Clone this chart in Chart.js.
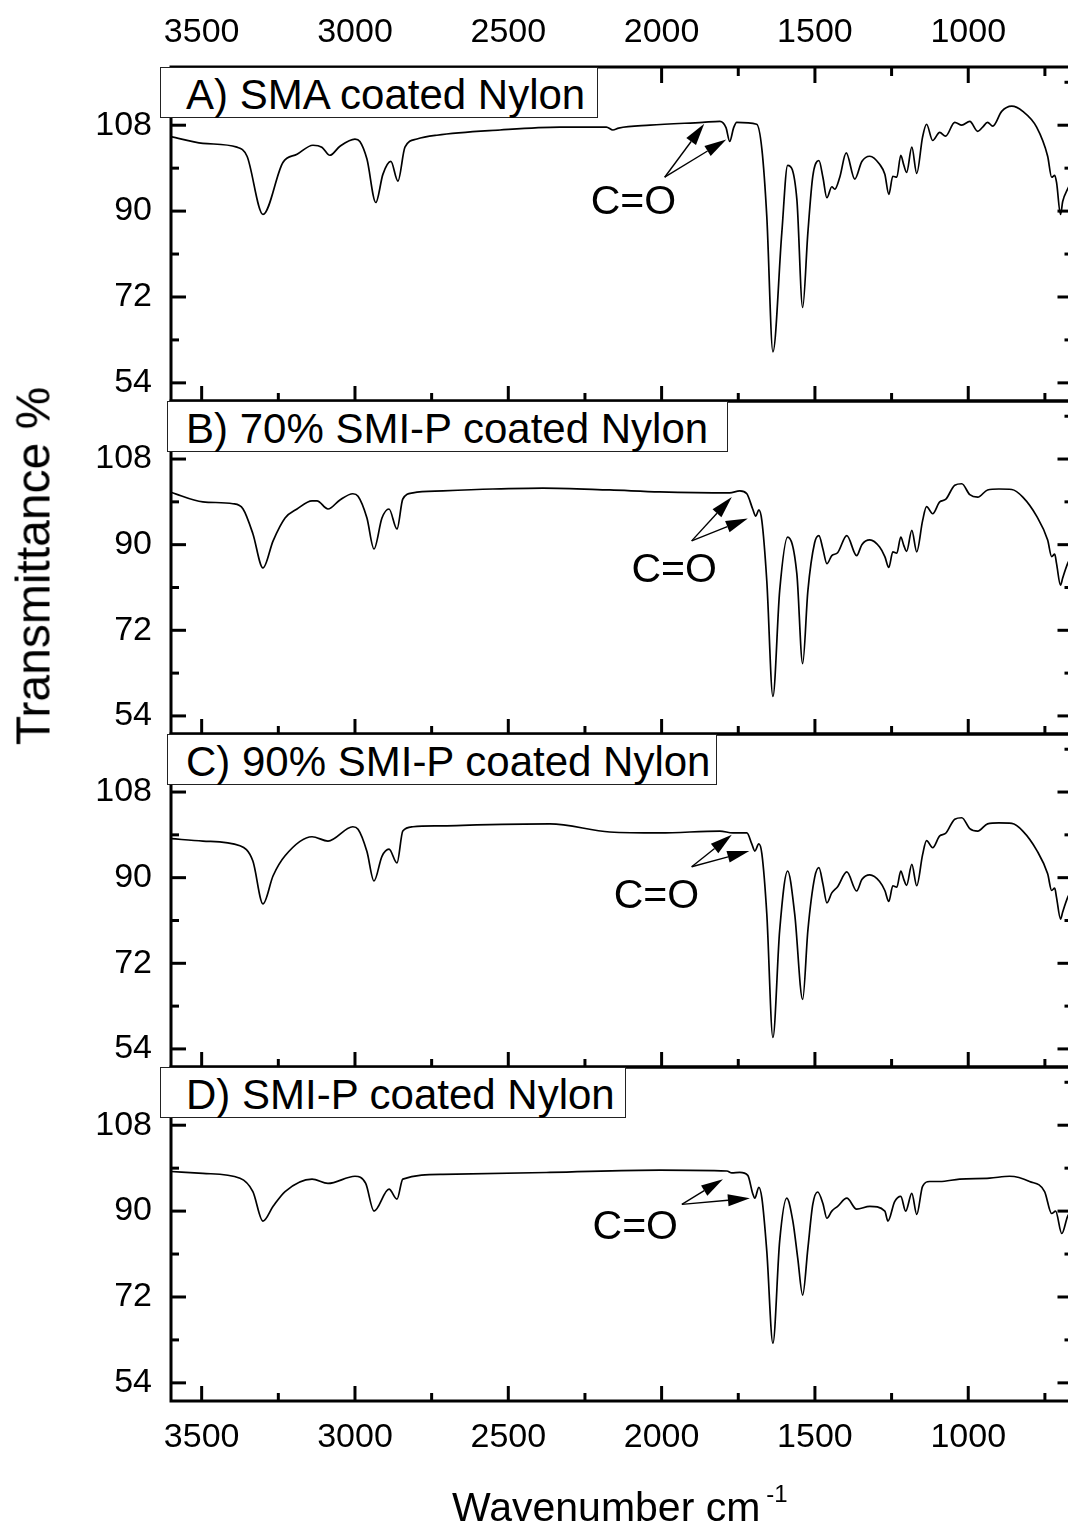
<!DOCTYPE html>
<html>
<head>
<meta charset="utf-8">
<script src="https://cdn.jsdelivr.net/npm/chart.js@4.4.1/dist/chart.umd.min.js"></script>
<style>
  body { margin: 0; width: 1068px; height: 1528px; overflow: hidden; background: #fff;
         font-family: "Liberation Sans", Arial, sans-serif; position: relative; }
  canvas { position: absolute; left: 0; }
  .tag { position: absolute; box-sizing: border-box; height: 51px; background: #fff;
         border: 1.5px solid #222; font-size: 42px; line-height: 54px; white-space: nowrap;
         padding-left: 24px; color: #000; z-index: 5; }
  .ytitle { position: absolute; left: 33px; top: 566px; font-size: 48px; white-space: nowrap;
            transform: translate(-50%, -50%) rotate(-90deg); z-index: 5; }
  .xtitle { position: absolute; left: 452px; top: 1487px; font-size: 41px; line-height: 41px;
            white-space: nowrap; z-index: 5; }
  .xtitle span { font-size: 24px; position: relative; top: -19px; margin-left: 6px; }
</style>
</head>
<body>
<canvas id="pA" width="1080" height="411" style="top:0px"></canvas>
<canvas id="pB" width="1080" height="353" style="top:391px"></canvas>
<canvas id="pC" width="1080" height="353" style="top:724px"></canvas>
<canvas id="pD" width="1080" height="471" style="top:1057px"></canvas>

<div class="tag" style="left:160px; top:67px; width:438px; padding-left:25px">A) SMA coated Nylon</div>
<div class="tag" style="left:167px; top:401px; width:561px; padding-left:18px">B) 70% SMI-P coated Nylon</div>
<div class="tag" style="left:167px; top:734px; width:550px; padding-left:18px">C) 90% SMI-P coated Nylon</div>
<div class="tag" style="left:160px; top:1067px; width:466px; padding-left:25px">D) SMI-P coated Nylon</div>
<div class="ytitle">Transmittance %</div>
<div class="xtitle">Wavenumber cm<span>-1</span></div>

<script>
// axis ranges and ticks
const X_MIN = 660, X_MAX = 3600;
const Y_MIN = 50.2, Y_MAX = 120.2;
const X_TICKS = [3500, 3000, 2500, 2000, 1500, 1000];
const X_MINOR = [3250, 2750, 2250, 1750, 1250, 750];
const Y_TICKS = [54, 72, 90, 108];
const Y_MINOR = [63, 81, 99, 117];

// spectra: [wavenumber, transmittance %]
const sma = [
  [3600, 105.6], [3496, 104.2], [3385, 103.4], [3352, 101.5], [3300, 89.3], [3235, 100.2],
  [3189, 101.9], [3137, 103.8], [3108, 103.4], [3082, 101.7], [3049, 103.6], [3000, 105.1],
  [2984, 104.6], [2961, 100.9], [2932, 91.8], [2909, 97.7], [2883, 100.4], [2860, 96.3],
  [2837, 103.4], [2798, 105.1], [2733, 105.9], [2527, 107.0], [2332, 107.6], [2180, 107.6],
  [2159, 107.0], [2140, 107.4], [2038, 108.0], [1866, 108.6], [1810, 108.8], [1790, 107.5],
  [1778, 104.6], [1765, 107.5], [1755, 108.6], [1690, 108.2], [1673, 103.0], [1657, 88.9],
  [1637, 60.5], [1608, 85.5], [1589, 99.6], [1559, 92.5], [1540, 69.8], [1523, 85.5],
  [1507, 97.3], [1487, 100.6], [1474, 97.1], [1461, 92.8], [1445, 95.1], [1435, 94.6],
  [1419, 97.1], [1398, 102.2], [1370, 96.7], [1347, 100.4], [1321, 101.5], [1289, 99.8],
  [1272, 97.7], [1259, 93.5], [1246, 97.3], [1233, 97.1], [1220, 101.7], [1210, 99.6],
  [1201, 98.1], [1184, 103.4], [1168, 97.9], [1149, 105.5], [1136, 108.2], [1116, 104.8],
  [1093, 106.5], [1074, 105.7], [1044, 108.6], [1021, 108.0], [995, 108.8], [969, 106.7],
  [953, 107.6], [937, 108.6], [920, 107.8], [891, 110.9], [858, 112.0], [822, 110.9],
  [777, 107.6], [741, 101.5], [728, 97.1], [718, 97.5], [712, 96.0], [699, 89.3],
  [692, 92.0], [676, 94.6], [660, 96.5]
];

const smi70 = [
  [3600, 101.0], [3496, 99.0], [3398, 98.6], [3365, 97.5], [3333, 92.3], [3300, 85.1],
  [3267, 90.8], [3228, 95.6], [3189, 97.5], [3140, 99.2], [3124, 99.2], [3088, 97.5],
  [3049, 99.4], [3007, 100.7], [2990, 100.2], [2961, 95.6], [2938, 89.1], [2912, 95.6],
  [2889, 97.5], [2863, 93.3], [2844, 99.6], [2811, 100.9], [2713, 101.3], [2550, 101.7],
  [2387, 101.9], [2169, 101.5], [2006, 101.1], [1778, 100.9], [1745, 101.3], [1722, 100.7],
  [1703, 97.5], [1693, 96.0], [1683, 97.3], [1673, 95.0], [1657, 82.4], [1637, 58.1],
  [1615, 80.3], [1589, 91.6], [1559, 83.9], [1540, 65.0], [1523, 80.3], [1501, 90.4],
  [1487, 91.9], [1474, 89.1], [1461, 86.0], [1445, 87.7], [1426, 88.3], [1396, 91.9],
  [1364, 87.7], [1347, 90.0], [1321, 91.0], [1289, 89.5], [1272, 87.5], [1259, 85.2],
  [1246, 88.5], [1233, 88.2], [1220, 91.6], [1210, 89.8], [1201, 88.6], [1184, 93.0],
  [1168, 88.5], [1149, 95.0], [1136, 98.0], [1116, 96.5], [1093, 99.0], [1074, 99.5],
  [1044, 102.5], [1021, 102.8], [995, 100.5], [969, 100.0], [937, 101.5], [900, 101.7],
  [858, 101.6], [822, 100.0], [777, 96.0], [741, 91.0], [728, 87.5], [718, 88.0],
  [712, 86.0], [699, 81.5], [692, 83.0], [676, 86.0], [660, 88.0]
];

const smi90 = [
  [3600, 98.2], [3496, 97.7], [3375, 96.7], [3333, 93.5], [3300, 84.5], [3267, 90.4],
  [3228, 94.6], [3140, 98.6], [3088, 97.7], [3007, 100.7], [2990, 100.2], [2961, 95.5],
  [2938, 89.3], [2912, 94.5], [2889, 96.0], [2863, 93.1], [2844, 99.8], [2811, 100.7],
  [2713, 100.9], [2364, 101.3], [2169, 99.6], [2006, 99.4], [1810, 99.8], [1768, 99.4],
  [1722, 99.4], [1706, 97.1], [1696, 95.6], [1683, 97.1], [1673, 95.0], [1657, 82.4],
  [1637, 56.4], [1615, 78.9], [1589, 91.4], [1566, 82.4], [1540, 64.4], [1523, 78.9],
  [1501, 90.0], [1487, 92.1], [1474, 88.7], [1461, 84.7], [1445, 86.8], [1426, 88.1],
  [1396, 91.2], [1364, 87.2], [1347, 89.6], [1321, 90.6], [1289, 89.2], [1272, 87.3],
  [1259, 85.0], [1246, 88.3], [1233, 88.0], [1220, 91.4], [1210, 89.6], [1201, 88.4],
  [1184, 92.8], [1168, 88.3], [1149, 94.8], [1136, 97.8], [1116, 96.3], [1093, 98.8],
  [1074, 99.3], [1044, 102.3], [1021, 102.6], [995, 100.3], [969, 99.8], [937, 101.3],
  [900, 101.5], [858, 101.4], [822, 99.8], [777, 95.8], [741, 90.8], [728, 87.3],
  [718, 87.8], [712, 85.8], [699, 81.3], [692, 82.8], [676, 85.8], [660, 87.8]
];

const smiP = [
  [3600, 98.3], [3496, 97.9], [3375, 96.9], [3333, 94.1], [3300, 87.9], [3267, 91.0],
  [3228, 94.1], [3140, 96.7], [3088, 95.8], [3000, 97.3], [2965, 95.8], [2938, 90.0],
  [2889, 94.6], [2863, 92.5], [2844, 96.7], [2713, 97.7], [2364, 98.1], [2006, 98.6],
  [1787, 98.4], [1771, 98.0], [1745, 98.1], [1719, 97.5], [1703, 93.7], [1696, 92.7],
  [1683, 95.0], [1673, 92.7], [1657, 81.6], [1637, 62.3], [1615, 83.7], [1592, 92.7],
  [1572, 87.9], [1556, 80.1], [1540, 72.4], [1523, 82.2], [1507, 91.4], [1491, 94.0],
  [1474, 91.6], [1461, 88.5], [1445, 90.0], [1426, 91.0], [1396, 92.7], [1364, 90.4],
  [1321, 91.0], [1272, 90.0], [1262, 87.9], [1240, 92.0], [1220, 93.1], [1204, 90.0],
  [1184, 93.7], [1168, 89.3], [1149, 95.2], [1126, 96.2], [1093, 96.2], [1028, 96.7],
  [930, 96.9], [865, 97.3], [800, 96.2], [751, 94.1], [728, 89.5], [715, 90.0],
  [695, 85.3], [676, 88.9], [660, 90.5]
];

// C=O labels and arrows, in data units (wavenumber, %)
const coA = { text: [2092, 91.8], tail: [1990, 97.1], heads: [[1861, 108.3], [1789, 105.0]] };
const coB = { text: [1959, 84.5], tail: [1902, 90.8], heads: [[1771, 100.0], [1719, 95.5]] };
const coC = { text: [2017, 86.0], tail: [1902, 92.3], heads: [[1771, 99.0], [1714, 95.6]] };
const coD = { text: [2086, 86.6], tail: [1934, 91.4], heads: [[1800, 96.7], [1712, 92.7]] };

const FONT = '"Liberation Sans", Arial, sans-serif';

// box, inward ticks and the C=O annotation
const framePlugin = {
  id: 'frame',
  afterDatasetsDraw(chart, args, opts) {
    const { ctx, chartArea: a, scales: { x, y } } = chart;
    ctx.save();
    ctx.strokeStyle = '#000';
    ctx.lineWidth = 3;
    ctx.strokeRect(a.left, a.top, a.right - a.left, a.bottom - a.top);
    const seg = (x1, y1, x2, y2) => { ctx.beginPath(); ctx.moveTo(x1, y1); ctx.lineTo(x2, y2); ctx.stroke(); };
    Y_TICKS.forEach(v => { const p = y.getPixelForValue(v); seg(a.left, p, a.left + 15, p); seg(a.right, p, a.right - 15, p); });
    Y_MINOR.forEach(v => { const p = y.getPixelForValue(v); seg(a.left, p, a.left + 8, p); seg(a.right, p, a.right - 8, p); });
    X_TICKS.forEach(v => { const p = x.getPixelForValue(v); seg(p, a.bottom, p, a.bottom - 15); if (opts.topTicks) seg(p, a.top, p, a.top + 16); });
    X_MINOR.forEach(v => { const p = x.getPixelForValue(v); seg(p, a.bottom, p, a.bottom - 8); if (opts.topTicks) seg(p, a.top, p, a.top + 9); });

    const co = opts.co;
    if (co) {
      const px = (pt) => [x.getPixelForValue(pt[0]), y.getPixelForValue(pt[1])];
      const [tx, ty] = px(co.tail);
      ctx.lineWidth = 1.4;
      ctx.fillStyle = '#000';
      co.heads.forEach(h => {
        const [hx, hy] = px(h);
        const ang = Math.atan2(hy - ty, hx - tx);
        const len = 22, hw = 6;
        const bx = hx - len * Math.cos(ang), by = hy - len * Math.sin(ang);
        seg(tx, ty, bx, by);
        ctx.beginPath();
        ctx.moveTo(hx, hy);
        ctx.lineTo(bx + hw * Math.sin(ang), by - hw * Math.cos(ang));
        ctx.lineTo(bx - hw * Math.sin(ang), by + hw * Math.cos(ang));
        ctx.closePath();
        ctx.fill();
      });
      const [cx, cy] = px(co.text);
      ctx.font = '41px ' + FONT;
      ctx.textAlign = 'center';
      ctx.textBaseline = 'middle';
      ctx.fillText('C=O', cx, cy);
    }
    ctx.restore();
  }
};

function makePanel(id, spectrum, cfg) {
  return new Chart(document.getElementById(id), {
    type: 'line',
    data: {
      datasets: [{
        data: spectrum.map(p => ({ x: p[0], y: p[1] })),
        borderColor: '#000',
        borderWidth: 1.7,
        pointRadius: 0,
        tension: 0,
        cubicInterpolationMode: 'monotone',
        fill: false
      }]
    },
    options: {
      responsive: false,
      animation: false,
      devicePixelRatio: 1,
      layout: { padding: { left: 0, right: 7.5, top: cfg.padTop, bottom: cfg.padBottom } },
      plugins: {
        legend: { display: false },
        tooltip: { enabled: false },
        frame: { co: cfg.co, topTicks: cfg.axis === 'top' }
      },
      scales: {
        x: {
          type: 'linear',
          reverse: true,
          min: X_MIN,
          max: X_MAX,
          display: cfg.axis !== 'none',
          position: cfg.axis === 'top' ? 'top' : 'bottom',
          grid: { display: false, drawTicks: false },
          border: { display: false },
          ticks: {
            color: '#000',
            font: { family: FONT, size: 34, lineHeight: 1 },
            padding: cfg.axis === 'top' ? 17 : 20,
            maxRotation: 0,
            autoSkip: false,
            callback: v => String(v)
          },
          afterBuildTicks: s => { s.ticks = X_TICKS.map(v => ({ value: v })); },
          afterFit: s => { s.height = cfg.axisHeight; s.paddingLeft = 0; s.paddingRight = 0; }
        },
        y: {
          min: Y_MIN,
          max: Y_MAX,
          grid: { display: false, drawTicks: false },
          border: { display: false },
          ticks: {
            color: '#000',
            font: { family: FONT, size: 34, lineHeight: 1 },
            padding: 19,
            autoSkip: false,
            callback: v => String(v)
          },
          afterBuildTicks: s => { s.ticks = Y_TICKS.map(v => ({ value: v })); },
          afterFit: s => { s.width = 171; s.paddingTop = 0; s.paddingBottom = 0; }
        }
      }
    },
    plugins: [framePlugin]
  });
}

makePanel('pA', sma,   { axis: 'top',    axisHeight: 67,  padTop: 0,  padBottom: 10, co: coA });
makePanel('pB', smi70, { axis: 'none',   axisHeight: 0,   padTop: 10, padBottom: 10, co: coB });
makePanel('pC', smi90, { axis: 'none',   axisHeight: 0,   padTop: 10, padBottom: 10, co: coC });
makePanel('pD', smiP,  { axis: 'bottom', axisHeight: 127, padTop: 10, padBottom: 0,  co: coD });
</script>
</body>
</html>
